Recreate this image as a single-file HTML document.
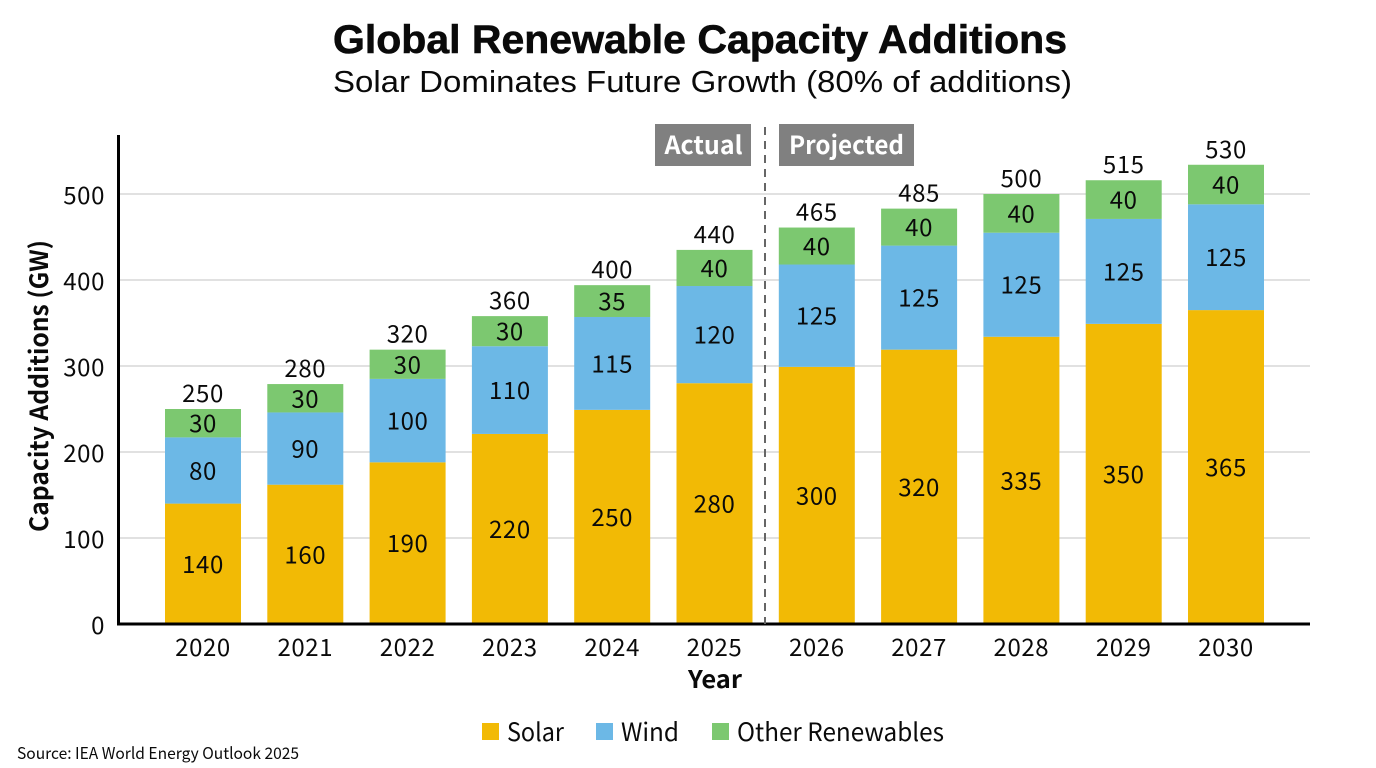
<!DOCTYPE html>
<html lang="en">
<head>
<meta charset="utf-8">
<title>Global Renewable Capacity Additions</title>
<style>
html,body{margin:0;padding:0;background:#fff;width:1376px;height:768px;overflow:hidden}
svg{display:block}
text{fill:#0a0a0a;font-family:"Noto Sans CJK JP","Liberation Sans",sans-serif}
.heading{font-family:"Liberation Sans",sans-serif}
</style>
</head>
<body>
<svg id="chart" xmlns="http://www.w3.org/2000/svg" width="1376" height="768" viewBox="0 0 1376 768">
  <text class="heading" x="700" y="53" text-anchor="middle" font-size="40" font-weight="700" textLength="734" lengthAdjust="spacingAndGlyphs" stroke="#0a0a0a" stroke-width="0.6">Global Renewable Capacity Additions</text>
  <text class="heading" x="702.5" y="92" text-anchor="middle" font-size="31" textLength="739" lengthAdjust="spacingAndGlyphs">Solar Dominates Future Growth (80% of additions)</text>
  <g id="grid"></g>
  <g id="bars"></g>
  <g id="labels"></g>
  <g id="axes"></g>
  <line x1="765" y1="127" x2="765" y2="624" stroke="#666" stroke-width="2" stroke-dasharray="8 6"/>
  <rect x="655" y="124" width="96" height="42" fill="#808080"/>
  <text x="703.5" y="154" text-anchor="middle" font-size="25" font-weight="700" style="fill:#fff">Actual</text>
  <rect x="779" y="124" width="135" height="42" fill="#808080"/>
  <text x="846.5" y="154" text-anchor="middle" font-size="25" font-weight="700" style="fill:#fff" textLength="115" lengthAdjust="spacingAndGlyphs">Projected</text>
  <text transform="translate(48,386) rotate(-90)" text-anchor="middle" font-size="25" font-weight="700" textLength="292" lengthAdjust="spacingAndGlyphs">Capacity Additions (GW)</text>
  <text x="715" y="688" text-anchor="middle" font-size="24" font-weight="700" textLength="54" lengthAdjust="spacingAndGlyphs">Year</text>
  <g>
    <rect x="482" y="723" width="17" height="17" fill="#F2BA05"/>
    <text x="507" y="741" font-size="25" textLength="57" lengthAdjust="spacingAndGlyphs">Solar</text>
    <rect x="596" y="723" width="17" height="17" fill="#6CB8E6"/>
    <text x="621" y="741" font-size="25" textLength="58" lengthAdjust="spacingAndGlyphs">Wind</text>
    <rect x="712" y="723" width="17" height="17" fill="#7CC870"/>
    <text x="737" y="741" font-size="25" textLength="207" lengthAdjust="spacingAndGlyphs">Other Renewables</text>
  </g>
  <text x="17" y="759" font-size="16" textLength="282" lengthAdjust="spacingAndGlyphs">Source: IEA World Energy Outlook 2025</text>
</svg>
<script>
const years = ['2020','2021','2022','2023','2024','2025','2026','2027','2028','2029','2030'];
const solarValues = [140,162,188,221,249,280,299,319,334,349,365];
const windValues = [77,84,97,102,108,113,119,121,121,122,123];
const otherValues = [33,33,34,35,37,42,43,43,45,45,46];
const solarLabels = ['140','160','190','220','250','280','300','320','335','350','365'];
const windLabels = ['80','90','100','110','115','120','125','125','125','125','125'];
const otherLabels = ['30','30','30','30','35','40','40','40','40','40','40'];
const totalLabels = ['250','280','320','360','400','440','465','485','500','515','530'];
const yTicks = [0,100,200,300,400,500];

const NS = 'http://www.w3.org/2000/svg';
const yScale = v => 624 - v * 0.86;
const xCenter = i => 203 + i * 102.3;
const BAR_W = 76;
const DIGIT_SPACING = 0.6;

function make(parent, tag, attrs, text) {
  const el = document.createElementNS(NS, tag);
  for (const k in attrs) el.setAttribute(k, attrs[k]);
  if (text !== undefined) el.textContent = text;
  parent.appendChild(el);
  return el;
}

const grid = document.getElementById('grid');
const bars = document.getElementById('bars');
const labels = document.getElementById('labels');
const axes = document.getElementById('axes');

yTicks.forEach(t => {
  if (t > 0) {
    const g = make(grid, 'line', {x1:120, x2:1310, y1:yScale(t), y2:yScale(t), stroke:'#cfcfcf', 'stroke-width':1.3});
    
    
  }
  const l = make(axes, 'text', {x:105, y:yScale(t) + 10, 'text-anchor':'end', 'font-size':24, 'letter-spacing':DIGIT_SPACING}, String(t));
  
  
});

const yAxis = make(axes, 'line', {x1:118.5, x2:118.5, y1:135, y2:625.5, stroke:'#000', 'stroke-width':3});


const xAxis = make(axes, 'line', {x1:117, x2:1310, y1:624, y2:624, stroke:'#000', 'stroke-width':3});



years.forEach((year, i) => {
  const cx = xCenter(i);
  const x = cx - BAR_W / 2;
  const solarTop = yScale(solarValues[i]);
  const windTop = yScale(solarValues[i] + windValues[i]);
  const otherTop = yScale(solarValues[i] + windValues[i] + otherValues[i]);

  const solarBar = make(bars, 'rect', {x:x, y:solarTop, width:BAR_W, height:yScale(0) - solarTop, fill:'#F2BA05'});
  
  
  const windBar = make(bars, 'rect', {x:x, y:windTop, width:BAR_W, height:solarTop - windTop, fill:'#6CB8E6'});
  
  
  const otherBar = make(bars, 'rect', {x:x, y:otherTop, width:BAR_W, height:windTop - otherTop, fill:'#7CC870'});
  
  

  const solarText = make(labels, 'text', {x:cx, y:(solarTop + yScale(0)) / 2 + 9, 'text-anchor':'middle', 'font-size':24, 'letter-spacing':DIGIT_SPACING}, solarLabels[i]);
  
  
  const windText = make(labels, 'text', {x:cx, y:(windTop + solarTop) / 2 + 9, 'text-anchor':'middle', 'font-size':24, 'letter-spacing':DIGIT_SPACING}, windLabels[i]);
  
  
  const otherText = make(labels, 'text', {x:cx, y:(otherTop + windTop) / 2 + 9, 'text-anchor':'middle', 'font-size':24, 'letter-spacing':DIGIT_SPACING}, otherLabels[i]);
  
  
  const totalText = make(labels, 'text', {x:cx, y:otherTop - 7, 'text-anchor':'middle', 'font-size':24, 'letter-spacing':DIGIT_SPACING}, totalLabels[i]);
  
  

  const tick = make(axes, 'text', {x:cx, y:656, 'text-anchor':'middle', 'font-size':24, 'letter-spacing':DIGIT_SPACING}, year);
  
  
});
</script>
</body>
</html>
